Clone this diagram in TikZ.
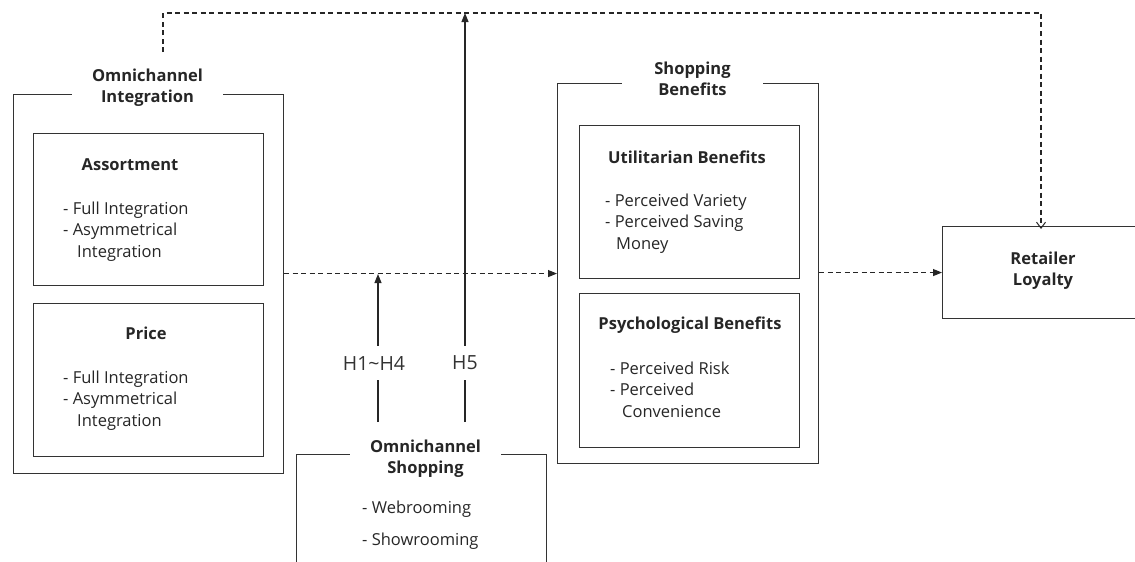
\documentclass[tikz,border=0pt]{standalone}
\usepackage{fontspec}
\setmainfont{Open Sans}
\usetikzlibrary{arrows.meta}
\begin{document}
\begin{tikzpicture}[x=1pt,y=-1pt,
  box/.style={draw=black!80, line width=1.1pt, rectangle, inner sep=0pt, anchor=north west},
  ttl/.style={font=\fontsize{16.5}{21}\selectfont\bfseries, text=black!85, align=center},
  gapttl/.style={ttl, fill=white, inner xsep=0pt, inner ysep=2pt},
  txt/.style={font=\fontsize{16.5}{21.2}\selectfont, text=black!85, anchor=north west, align=left, inner sep=0pt},
  hl/.style={font=\fontsize{19.5}{22}\selectfont, text=black!80, inner xsep=0pt, inner ysep=10pt},
  dsh/.style={draw=black!85, line width=1.1pt, dash pattern=on 5pt off 3.5pt},
  sol/.style={draw=black!85, line width=1.1pt},
  tri/.style={-{Triangle[length=9pt,width=7pt]}},
  barb/.style={-{Straight Barb[length=6pt,width=9pt,line width=1pt]}},
]
\useasboundingbox (0,0) rectangle (1135,562);

% Omnichannel Integration
\node[box, minimum width=270pt, minimum height=379pt] (oi) at (13,94) {};
\node[gapttl, minimum width=151pt] (oit) at (147.5,88) {Omnichannel\\Integration};
\node[box, minimum width=230pt, minimum height=152pt] (as) at (33,133) {};
\node[ttl] (ast) at (130,165) {Assortment};
\node[txt] (asl) at (63,202) {- Full Integration\\- Asymmetrical\\\hspace*{14pt}Integration};
\node[box, minimum width=230pt, minimum height=153pt] (pr) at (33,303) {};
\node[ttl] (prt) at (146,333) {Price};
\node[txt] (prl) at (63,371) {- Full Integration\\- Asymmetrical\\\hspace*{14pt}Integration};

% Shopping Benefits
\node[box, minimum width=261pt, minimum height=380pt] (sb) at (557,83) {};
\node[gapttl, minimum width=141pt] (sbt) at (692.5,78.5) {Shopping\\Benefits};
\node[box, minimum width=220pt, minimum height=153pt] (ub) at (579,125) {};
\node[ttl] (ubt) at (687,157) {Utilitarian Benefits};
\node[txt] (ubl) at (605,194) {- Perceived Variety\\- Perceived Saving\\\hspace*{11pt}Money};
\node[box, minimum width=220pt, minimum height=154pt] (pb) at (579,293) {};
\node[ttl] (pbt) at (690,325) {Psychological Benefits};
\node[txt] (pbl) at (610,362) {- Perceived Risk\\- Perceived\\\hspace*{12pt}Convenience};

% Retailer Loyalty
\node[box, minimum width=202pt, minimum height=92pt] (rl) at (942,226) {};
\node[ttl] (rlt) at (1043,271) {Retailer\\Loyalty};

% Omnichannel Shopping
\node[box, minimum width=250pt, minimum height=150pt] (os) at (296,454) {};
\node[gapttl, minimum width=151pt] (ost) at (425.5,458.5) {Omnichannel\\Shopping};
\node[txt] (osl1) at (362,501) {- Webrooming};
\node[txt] (osl2) at (362,533) {- Showrooming};

% hypothesis arrows
\node[hl] (h14) at (374,363) {H1\textasciitilde H4};
\node[hl] (h5) at (465,363) {H5};
\coordinate (h14b) at (378,422);
\coordinate (h14t) at (378,274);
\coordinate (h5b) at (465,422);
\coordinate (h5t) at (465,13);
\coordinate (topl) at (163,52);
\coordinate (topr) at (1041,13);

\draw[sol] (h14b) -- (h14b |- h14.south);
\draw[sol, tri] (h14t |- h14.north) -- (h14t);
\draw[sol] (h5b) -- (h5b |- h5.south);
\draw[sol, tri] (h5t |- h5.north) -- (h5t);

% dashed connectors
\draw[dsh, tri] (oi.east |- sb.west) -- (sb.west);
\draw[dsh, tri] (sb.east |- rl.west) -- (rl.west);
\draw[dsh, barb] (topl) -- (topl |- topr) -- (topr) -- ([yshift=-3pt]topr |- rl.north);
\end{tikzpicture}
\end{document}
